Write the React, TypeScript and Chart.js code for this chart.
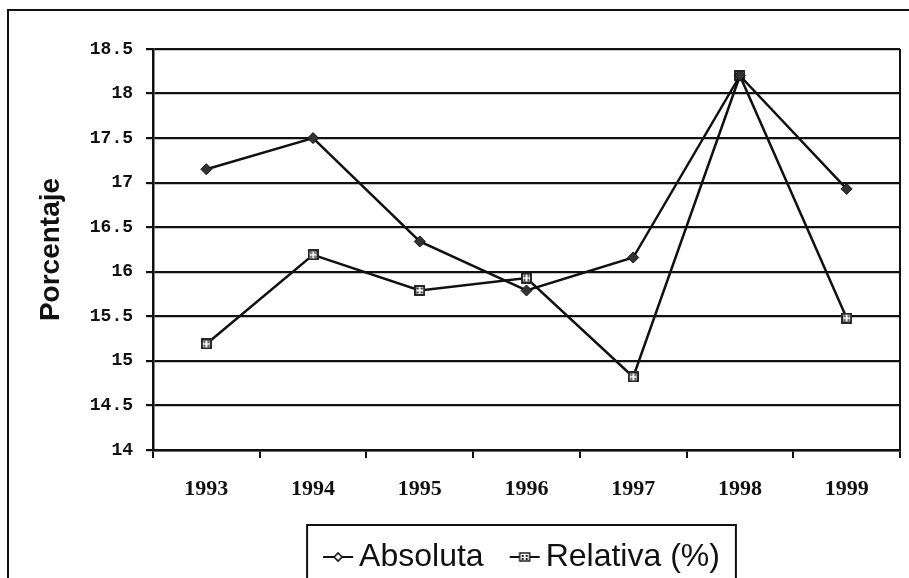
import React, { useEffect, useRef } from "react";
import { Chart, registerables } from "chart.js";

Chart.register(...registerables);

const years = ["1993", "1994", "1995", "1996", "1997", "1998", "1999"];
const absoluta = [17.15, 17.5, 16.34, 15.79, 16.16, 18.2, 16.93];
const relativa = [15.19, 16.19, 15.79, 15.93, 14.82, 18.2, 15.48];
const seriesNames = ["Absoluta", "Relativa (%)"];
const yMin = 14;
const yMax = 18.5;
const yStep = 0.5;
const yTitle = "Porcentaje";

function makeSquareMarker(size: number): HTMLCanvasElement {
  const c = document.createElement("canvas");
  c.width = size;
  c.height = size;
  const ctx = c.getContext("2d")!;
  ctx.fillStyle = "#ffffff";
  ctx.fillRect(0, 0, size, size);
  ctx.strokeStyle = "#111";
  ctx.lineWidth = 1.8;
  ctx.strokeRect(1, 1, size - 2, size - 2);
  ctx.fillStyle = "#222";
  const m = size / 2;
  ctx.fillRect(m - 3, m - 3, 2, 2);
  ctx.fillRect(m + 1, m - 3, 2, 2);
  ctx.fillRect(m - 3, m + 1, 2, 2);
  ctx.fillRect(m + 1, m + 1, 2, 2);
  return c;
}

function makeLegendMarker(kind: "diamond" | "square"): HTMLCanvasElement {
  const w = 32;
  const h = 14;
  const c = document.createElement("canvas");
  c.width = w;
  c.height = h;
  const ctx = c.getContext("2d")!;
  ctx.strokeStyle = "#111";
  ctx.lineWidth = 2;
  ctx.beginPath();
  ctx.moveTo(1, h / 2);
  ctx.lineTo(w - 1, h / 2);
  ctx.stroke();
  const cx = w / 2;
  const cy = h / 2;
  if (kind === "diamond") {
    ctx.fillStyle = "#ffffff";
    ctx.beginPath();
    ctx.moveTo(cx, cy - 4);
    ctx.lineTo(cx + 4, cy);
    ctx.lineTo(cx, cy + 4);
    ctx.lineTo(cx - 4, cy);
    ctx.closePath();
    ctx.fill();
    ctx.lineWidth = 1.6;
    ctx.stroke();
  } else {
    ctx.fillStyle = "#ffffff";
    ctx.fillRect(cx - 5, cy - 4, 10, 8);
    ctx.lineWidth = 1.4;
    ctx.strokeRect(cx - 5, cy - 4, 10, 8);
    ctx.fillStyle = "#222";
    ctx.fillRect(cx - 3, cy - 2, 2, 2);
    ctx.fillRect(cx + 1, cy - 2, 2, 2);
    ctx.fillRect(cx - 3, cy + 1, 2, 2);
    ctx.fillRect(cx + 1, cy + 1, 2, 2);
  }
  return c;
}

const framePlugin = {
  id: "framePlugin",
  afterLayout(chart: any) {
    const lg = chart.legend;
    if (lg) {
      lg.top += 5;
      lg.bottom += 5;
    }
  },
  afterDraw(chart: any) {
    const ctx = chart.ctx;
    const area = chart.chartArea;
    ctx.save();
    ctx.strokeStyle = "#111";
    ctx.lineWidth = 2;
    // outer frame (top and left visible)
    ctx.beginPath();
    ctx.moveTo(8, 578);
    ctx.lineTo(8, 10);
    ctx.lineTo(909, 10);
    ctx.stroke();
    // right border of plot area
    ctx.beginPath();
    ctx.moveTo(area.right, area.top);
    ctx.lineTo(area.right, area.bottom);
    ctx.stroke();
    // legend box
    const lg = chart.legend;
    if (lg && lg.legendHitBoxes && lg.legendHitBoxes.length) {
      const boxes = lg.legendHitBoxes;
      const first = boxes[0];
      const last = boxes[boxes.length - 1];
      const left = first.left - 26;
      const right = last.left + last.width + 16;
      const top = 525;
      ctx.lineWidth = 2;
      ctx.beginPath();
      ctx.moveTo(left, 580);
      ctx.lineTo(left, top);
      ctx.lineTo(right, top);
      ctx.lineTo(right, 580);
      ctx.stroke();
    }
    ctx.restore();
  },
};

export default function App() {
  const ref = useRef<HTMLCanvasElement | null>(null);

  useEffect(() => {
    if (!ref.current) return;
    const squareMarker = makeSquareMarker(11);
    const legendMarkers = [makeLegendMarker("diamond"), makeLegendMarker("square")];
    const chart = new Chart(ref.current, {
      type: "line",
      data: {
        labels: years,
        datasets: [
          {
            label: seriesNames[0],
            data: absoluta,
            borderColor: "#111",
            backgroundColor: "#333",
            borderWidth: 2.5,
            pointStyle: "rectRot",
            pointRadius: 5.5,
            pointBorderColor: "#111",
            pointBackgroundColor: "#333",
            pointBorderWidth: 1,
            tension: 0,
          },
          {
            label: seriesNames[1],
            data: relativa,
            borderColor: "#111",
            backgroundColor: "#fff",
            borderWidth: 2.5,
            pointStyle: squareMarker as any,
            pointRadius: 6,
            tension: 0,
          },
        ],
      },
      options: {
        responsive: false,
        animation: false,
        layout: { padding: { top: 49, left: 34, right: 9, bottom: 0 } },
        plugins: {
          tooltip: { enabled: false },
          legend: {
            display: true,
            position: "bottom",
            fullSize: false,
            labels: {
              usePointStyle: true,
              pointStyleWidth: 10,
              padding: 36,
              color: "#111",
              font: { family: "'Liberation Sans', Arial, sans-serif", size: 32 },
              generateLabels: (ch: any) =>
                ch.data.datasets.map((ds: any, i: number) => ({
                  text: ds.label,
                  fillStyle: "#fff",
                  strokeStyle: "#111",
                  lineWidth: 0,
                  pointStyle: legendMarkers[i],
                  hidden: false,
                  datasetIndex: i,
                  fontColor: "#111",
                })),
            },
          },
        },
        scales: {
          x: {
            offset: true,
            afterFit: (scale: any) => {
              scale.height = 50;
            },
            grid: {
              offset: true,
              drawOnChartArea: false,
              drawTicks: true,
              tickLength: 8,
              color: "#111",
              lineWidth: 2,
            },
            border: { display: true, color: "#111", width: 2.5 },
            ticks: {
              padding: 18,
              color: "#111",
              maxRotation: 0,
              font: { family: "'Liberation Serif', serif", size: 22, weight: "bold" },
            },
          },
          y: {
            min: yMin,
            max: yMax,
            afterFit: (scale: any) => {
              scale.width = 119;
            },
            grid: {
              color: "#111",
              lineWidth: 2.2,
              drawTicks: true,
              tickLength: 7,
            },
            border: { display: true, color: "#111", width: 2.5 },
            ticks: {
              stepSize: yStep,
              padding: 13,
              color: "#111",
              font: { family: "'Liberation Mono', monospace", size: 18, weight: "bold" },
              callback: (v: any) => String(Number(v)),
            },
            title: {
              display: true,
              text: yTitle,
              color: "#111",
              padding: 0,
              font: { family: "'Liberation Sans', Arial, sans-serif", size: 28, weight: "bold" },
            },
          },
        },
      },
      plugins: [framePlugin],
    });
    return () => chart.destroy();
  }, []);

  return (
    <div style={{ position: "absolute", left: 0, top: 0, width: 909, height: 578, background: "#fff" }}>
      <canvas ref={ref} width={909} height={578} style={{ width: 909, height: 578, display: "block" }} />
    </div>
  );
}
